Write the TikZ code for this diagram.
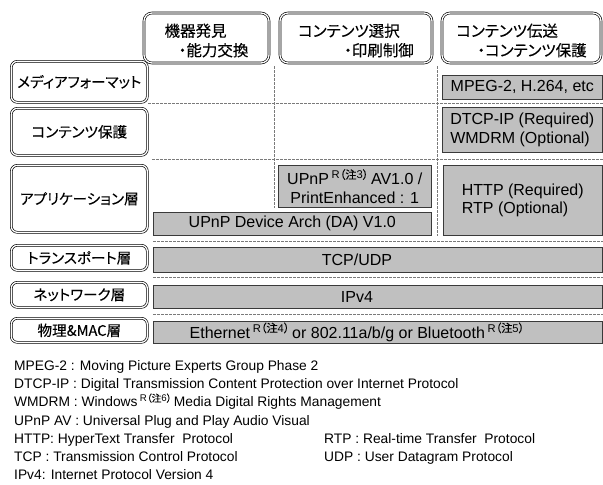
\documentclass[tikz,border=0pt]{standalone}
\usepackage{fontspec}
\setmainfont{Liberation Sans}
\newfontfamily\jpfont[RawFeature=+palt,FakeBold=0.15]{Noto Sans CJK JP}
\usetikzlibrary{positioning}
\definecolor{boxgray}{HTML}{C0C0C0}
\definecolor{boxedge}{HTML}{3A3A3A}
\definecolor{sepgray}{HTML}{7A7A7A}
\newcommand{\regnote}[1]{\raisebox{0.7ex}{\scalebox{0.7}{R{\jpfont （注}#1{\jpfont ）}}}}

\begin{document}
\begin{tikzpicture}[x=1pt,y=-1pt,
  headbox/.style={draw,double,double distance=1.3pt,line width=0.65pt,rounded corners=8pt,inner sep=0pt},
  headtext/.style={inner sep=0pt,align=left,font=\jpfont\fontsize{15.5}{19.5}\selectfont},
  layerbox/.style={draw,double,double distance=1.3pt,line width=0.65pt,rounded corners=6pt,
    inner sep=0pt,anchor=north west,minimum width=136pt,font=\jpfont\fontsize{14.6}{17}\selectfont},
  graybox/.style={draw=boxedge,fill=boxgray,line width=0.6pt,inner sep=0pt,anchor=north west,
    align=center,font=\fontsize{16}{18.5}\selectfont},
  boxtext/.style={inner sep=0pt,align=left,font=\fontsize{16}{18.5}\selectfont},
  sepline/.style={sepgray,line width=0.5pt,dash pattern=on 2.5pt off 1.5pt},
  legend/.style={anchor=base west,inner sep=0pt,font=\fontsize{13.8}{16}\selectfont}]
  \useasboundingbox (0,0) rectangle (603,485);

  % column heads
  \node[headbox,minimum width=125pt,minimum height=50pt] (find) at (206.5,38) {};
  \node[headbox,minimum width=152pt,minimum height=50pt] (select) at (356,38) {};
  \node[headbox,minimum width=159pt,minimum height=50pt] (deliver) at (521.5,38) {};
  \node[headtext] (findtxt) at ([yshift=-2.5pt]find.center) {機器発見\\\hspace*{14pt}・能力交換};
  \node[headtext] (selecttxt) at ([yshift=-2.5pt]select.center) {コンテンツ選択\\\hspace*{46pt}・印刷制御};
  \node[headtext] (delivertxt) at ([yshift=-2.5pt]deliver.center) {コンテンツ伝送\\\hspace*{21pt}・コンテンツ保護};

  % layer names
  \foreach \name/\top/\high/\txt in {media/61/41/メディアフォーマット, protect/108/47/コンテンツ保護,
      app/165/67/アプリケーション層, transport/245/25/トランスポート層,
      network/282/25/ネットワーク層, phys/318/24/物理\&MAC層}
    \node[layerbox,minimum height=\high pt] (\name) at (11,\top) {\txt};

  % separators
  \foreach \y/\x in {103/148,159/152,241/153,277/153,314/153}
    \draw[sepline] (\x,\y) -- (603,\y);
  \draw[sepline] (274,66) -- (274,208);
  \draw[sepline] (437,66) -- (437,236);

  % protocol boxes
  \node[graybox,minimum width=160pt,minimum height=24pt] (mpeg) at (442,75) {MPEG-2, H.264, etc};
  \node[graybox,minimum width=160pt,minimum height=45pt] (dtcp) at (442,107) {};
  \node[boxtext] (dtcptxt) at (dtcp) {DTCP-IP (Required)\\WMDRM (Optional)};
  \node[graybox,minimum width=153pt,minimum height=42pt] (upnpav) at (278,165)
    {UPnP\,\regnote{3}\,AV1.0 /\\PrintEnhanced : 1};
  \node[graybox,minimum width=278pt,minimum height=23pt] (upnpda) at (153,212)
    {UPnP Device Arch (DA) V1.0};
  \node[graybox,minimum width=159pt,minimum height=70pt] (http) at (443,165) {};
  \node[boxtext] (httptxt) at (http) {HTTP (Required)\\RTP (Optional)};
  \node[graybox,minimum width=449pt,minimum height=25pt] (tcp) at (153,247) {};
  \node[boxtext] (tcptxt) at (357,259.5) {TCP/UDP};
  \node[graybox,minimum width=449pt,minimum height=23pt] (ipv4) at (153,285) {};
  \node[boxtext] (ipv4txt) at (357,296.5) {IPv4};
  \node[graybox,minimum width=449pt,minimum height=22pt] (eth) at (153,321) {};
  \node[boxtext] (ethtxt) at (357,332)
    {Ethernet\,\regnote{4}\,or 802.11a/b/g or Bluetooth\,\regnote{5}};

  % abbreviations
  \foreach \i/\txt in {0/{MPEG-2 : Moving Picture Experts Group Phase 2},
      1/{DTCP-IP : Digital Transmission Content Protection over Internet Protocol},
      2/{WMDRM : Windows\,\regnote{6}\,Media Digital Rights Management},
      3/{UPnP AV : Universal Plug and Play Audio Visual},
      4/{HTTP: HyperText Transfer\ \ Protocol},
      5/{TCP : Transmission Control Protocol},
      6/{IPv4: Internet Protocol Version 4}}
    \node[legend] (leg\i) at (14,{370.5+18.2*\i}) {\txt};
  \node[legend] (legrtp) at (324,{370.5+18.2*4}) {RTP : Real-time Transfer\ \ Protocol};
  \node[legend] (legudp) at (324,{370.5+18.2*5}) {UDP : User Datagram Protocol};
\end{tikzpicture}
\end{document}
